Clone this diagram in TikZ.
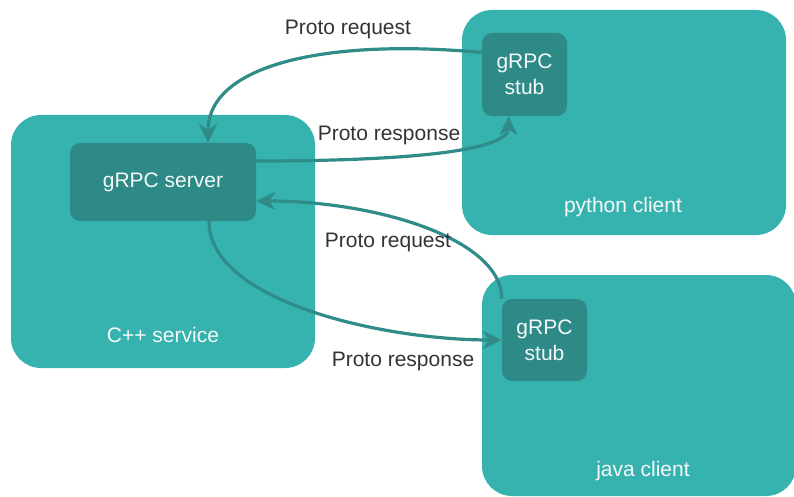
\documentclass[tikz,border=0pt]{standalone}
\usepackage{fontspec}
\setmainfont{Liberation Sans}
\usetikzlibrary{arrows.meta}
\definecolor{outerteal}{HTML}{36B3AE}
\definecolor{innerteal}{HTML}{2E8A86}
\definecolor{linkteal}{HTML}{2F8C88}
\definecolor{labelgray}{HTML}{333333}
\definecolor{boxtext}{HTML}{F4F8F8}
\tikzset{
  container/.style={fill=outerteal, draw=none, rounded corners=30pt, inner sep=0pt},
  inner box/.style={fill=innerteal, draw=none, rounded corners=10pt, inner sep=0pt,
    text=boxtext, align=center, font=\fontsize{21}{26}\selectfont},
  box label/.style={text=boxtext, font=\fontsize{21}{24}\selectfont},
  edge label/.style={text=labelgray, font=\fontsize{21}{24}\selectfont},
  link/.style={draw=linkteal, line width=3.2pt,
    -{Stealth[length=19pt,width=18pt,inset=6pt]}},
}
\begin{document}
\begin{tikzpicture}[x=1pt,y=-1pt]
\useasboundingbox (0,0) rectangle (794,497);

% containers
\node[container, minimum width=304pt, minimum height=253pt] (cpp) at (163,241.5) {};
\node[container, minimum width=324pt, minimum height=225pt] (py) at (624,122.5) {};
\node[container, minimum width=314pt, minimum height=221pt] (java) at (639,385.5) {};

% container captions
\node[box label] (cpplabel) at (163,335) {C++ service};
\node[box label] (pylabel) at (623,207) {python client};
\node[box label] (javalabel) at (643,471) {java client};

% gRPC endpoints
\node[inner box, minimum width=186pt, minimum height=78pt] (server) at (163,182) {gRPC server};
\node[inner box, minimum width=85pt, minimum height=83pt] (pystub) at (524.5,74.5) {gRPC\\stub};
\node[inner box, minimum width=85pt, minimum height=82pt] (jstub) at (544.5,340) {gRPC\\stub};

% python client <-> server
\draw[link] ([yshift=22pt]pystub.west) .. controls +(-150,-14) and +(0,-80) .. ([xshift=45pt]server.north);
\draw[link] ([yshift=21pt]server.east) .. controls +(150,0) and +(0,35) .. ([xshift=-16pt]pystub.south);

% java client <-> server
\draw[link] (jstub.north west) .. controls +(0,-60) and +(120,0) .. ([yshift=-19pt]server.east);
\draw[link] ([xshift=46pt]server.south) .. controls +(0,80) and +(-120,0) .. (jstub.west);

% message labels
\node[edge label] (req1) at (348,29) {Proto request};
\node[edge label] (resp1) at (389,135) {Proto response};
\node[edge label] (req2) at (388,242) {Proto request};
\node[edge label] (resp2) at (403,361) {Proto response};
\end{tikzpicture}
\end{document}
